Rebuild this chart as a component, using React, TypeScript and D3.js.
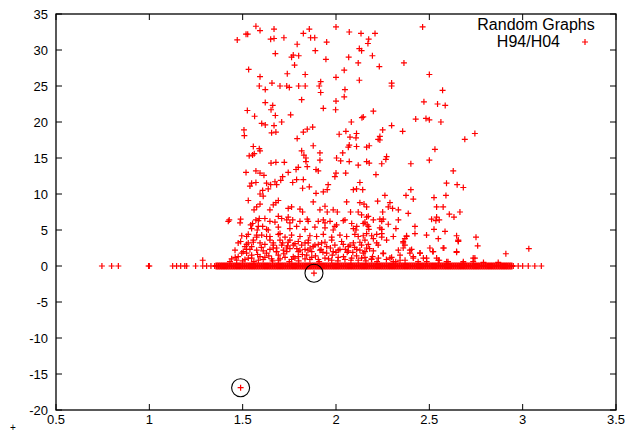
import React from "react";
import * as d3 from "d3";

// scattered points above the baseline [x, y]
const upperPoints: [number, number][] = [
  [1.571, 33.3], [1.593, 32.7], [1.518, 32.2], [1.527, 32.2], [1.668, 32.9], [1.471, 31.4], [1.65, 31.5], [1.668, 31.6],
  [1.721, 31.7], [1.825, 32.3], [1.857, 32.9], [1.864, 31.7], [1.886, 31.7], [1.792, 30.8], [1.95, 31.1], [2.0, 33.2],
  [2.071, 32.5], [2.134, 32.3], [2.175, 31.5], [2.171, 30.9], [1.675, 29.5], [1.889, 29.9], [2.125, 30.2], [2.137, 29.9],
  [1.771, 29.3], [1.762, 29.0], [1.8, 29.2], [1.946, 28.7], [2.068, 29.0], [2.119, 28.2], [1.778, 27.9], [1.532, 27.3],
  [2.044, 27.2], [1.739, 26.7], [1.835, 26.6], [1.593, 26.3], [2.0, 26.2], [2.125, 25.8], [1.657, 25.4], [1.918, 25.6],
  [1.91, 25.0], [1.918, 24.1], [1.589, 25.0], [1.621, 24.5], [1.7, 25.0], [1.736, 25.0], [1.75, 24.8], [1.8, 25.0],
  [1.835, 25.0], [2.048, 24.5], [2.044, 23.5], [1.816, 23.1], [2.0, 22.9], [1.621, 22.7], [1.661, 22.3], [1.652, 21.7],
  [1.932, 21.9], [1.998, 21.7], [1.525, 21.6], [1.564, 20.8], [1.675, 20.9], [1.757, 21.0], [2.146, 20.7], [2.139, 20.6],
  [1.602, 19.8], [1.621, 19.6], [1.668, 19.5], [1.709, 20.0], [1.507, 18.9], [1.509, 18.1], [1.875, 19.3], [1.846, 19.0],
  [1.825, 18.6], [1.655, 18.5], [1.678, 18.6], [2.082, 20.0], [2.053, 18.7], [2.017, 18.3], [2.11, 18.4], [2.075, 17.9],
  [2.107, 17.8], [1.792, 17.7],
  [2.464, 33.2], [2.209, 32.3], [2.195, 29.2], [2.232, 27.7], [2.364, 28.2], [2.5, 26.6], [2.298, 25.4], [2.298, 25.0],
  [2.571, 24.4], [2.471, 22.8], [2.544, 22.5], [2.585, 22.3], [2.2, 21.5], [2.427, 20.4], [2.482, 20.5], [2.5, 20.3],
  [2.562, 20.0], [2.298, 19.5], [2.25, 18.9], [2.235, 18.0], [2.226, 17.6], [2.357, 18.7], [2.744, 18.4], [2.69, 17.6],
  [1.557, 16.6], [1.593, 16.0], [1.589, 16.3], [1.878, 16.7], [1.816, 16.0], [1.828, 15.4], [1.839, 15.0], [1.914, 15.7],
  [1.914, 14.7], [2.071, 16.8], [2.066, 16.5], [2.11, 16.6], [2.164, 16.5], [2.036, 15.7], [1.535, 15.3], [1.553, 15.4],
  [1.562, 15.6], [1.652, 14.3], [1.678, 14.4], [1.723, 14.4], [1.786, 13.4], [1.798, 13.7], [1.839, 14.5], [1.846, 13.8],
  [1.893, 13.4], [1.905, 13.2], [2.003, 15.0], [2.025, 14.6], [2.071, 14.5], [2.119, 14.0], [2.164, 14.5], [1.518, 13.0],
  [1.571, 13.2], [1.593, 12.9], [1.614, 12.6], [1.714, 12.4], [1.704, 11.9], [1.673, 11.7], [1.682, 11.3], [1.744, 13.0],
  [1.768, 11.6], [1.821, 10.8], [1.857, 11.0], [2.0, 12.9], [1.994, 12.4], [2.052, 12.9], [1.893, 10.1], [1.932, 10.3],
  [1.953, 10.6], [1.958, 11.3], [2.128, 11.6], [2.143, 10.6], [2.093, 10.6], [2.11, 10.7], [1.548, 11.5], [1.571, 11.6],
  [1.539, 11.1], [1.628, 11.5], [1.65, 11.3], [1.607, 10.5], [1.637, 10.7], [1.825, 12.0], [1.789, 12.0], [1.593, 10.0],
  [1.61, 9.7], [1.53, 9.1], [1.575, 8.2], [1.593, 8.6], [1.561, 7.8], [1.646, 7.8], [1.664, 8.5], [1.678, 8.8],
  [1.691, 9.1], [1.744, 8.0], [1.762, 8.2], [1.807, 7.9], [1.821, 7.5], [1.878, 8.9], [1.941, 8.3], [1.914, 7.8],
  [1.953, 7.5], [1.985, 7.8], [2.007, 7.5], [2.057, 8.9], [2.078, 7.5], [2.128, 8.8], [2.15, 8.6], [2.119, 7.5],
  [2.137, 7.1], [2.164, 6.8], [1.428, 6.4], [1.489, 6.5], [1.543, 5.7], [1.553, 5.9], [1.571, 6.4], [1.589, 6.6],
  [1.619, 6.6], [1.646, 6.2], [1.607, 5.5], [1.578, 5.0], [1.691, 6.9], [1.709, 6.6], [1.744, 6.8], [1.768, 6.4],
  [1.807, 6.2], [1.846, 6.5], [1.887, 5.4], [1.905, 6.2], [1.932, 6.4], [1.968, 6.2], [2.003, 5.7], [1.985, 5.0],
  [2.048, 6.4], [2.084, 5.9], [2.107, 5.0], [2.146, 5.9], [2.173, 5.5], [2.164, 4.5],
  [2.235, 17.5], [2.178, 16.7], [2.53, 16.2], [2.271, 15.2], [2.267, 14.8], [2.178, 14.3], [2.245, 14.2], [2.401, 14.2],
  [2.5, 14.7], [2.214, 12.7], [2.628, 13.2], [2.592, 11.5], [2.649, 11.3], [2.682, 10.9], [2.401, 10.6], [2.262, 9.8],
  [2.375, 9.8], [2.414, 9.3], [2.525, 9.5], [2.589, 9.8], [2.164, 8.2], [2.223, 9.0], [2.289, 8.8], [2.28, 8.2],
  [2.303, 8.0], [2.334, 7.8], [2.387, 7.3], [2.539, 8.2], [2.574, 8.2], [2.664, 7.5], [2.607, 7.2], [2.632, 6.8],
  [2.25, 7.5], [2.173, 6.9], [2.2, 6.4], [2.235, 6.5], [2.253, 6.5], [2.334, 6.4], [2.512, 6.5], [2.539, 6.8],
  [2.553, 6.4], [2.535, 6.3], [2.167, 5.7], [2.176, 5.1], [2.28, 5.8], [2.321, 5.2], [2.307, 4.1], [2.245, 5.1],
  [2.218, 4.4], [2.423, 5.5], [2.423, 4.5], [2.485, 4.3], [2.525, 5.1], [2.584, 4.8], [2.548, 3.8], [2.646, 4.2],
  [2.655, 3.5], [2.75, 4.0], [2.759, 2.8], [2.146, 4.2], [2.2, 3.8], [2.245, 4.0], [2.271, 3.6], [2.369, 3.8],
  [2.378, 4.2], [2.226, 2.9], [2.36, 3.2], [2.405, 2.3], [2.36, 2.5], [2.334, 2.2], [2.45, 1.8], [2.503, 2.5],
  [2.518, 2.0], [2.578, 2.5], [2.646, 2.0], [2.744, 1.1], [2.91, 1.7], [3.033, 2.4], [2.146, 1.8], [2.128, 2.2],
  [2.137, 1.1], [2.196, 1.3], [2.253, 1.7], [2.298, 1.2], [2.343, 1.5], [2.396, 1.8], [2.414, 1.3], [2.485, 1.1],
  [2.539, 1.1], [2.553, 0.8], [2.682, 0.6], [2.735, 0.6], [2.869, 0.5],
];

// points a little above zero
const lowPoints: [number, number][] = [
  [1.476, 3.2], [1.489, 3.4], [1.521, 4.1], [1.53, 3.2], [1.557, 3.6], [1.548, 2.7], [1.575, 4.3], [1.593, 3.2],
  [1.628, 4.1], [1.637, 5.0], [1.646, 3.6], [1.664, 2.9], [1.682, 2.5], [1.7, 4.5], [1.7, 3.6], [1.714, 3.2],
  [1.736, 2.5], [1.753, 3.6], [1.771, 2.9], [1.798, 3.4], [1.807, 4.1], [1.834, 3.2], [1.852, 3.6], [1.861, 2.5],
  [1.887, 2.9], [1.896, 4.1], [1.923, 3.2], [1.95, 2.7], [1.977, 3.6], [1.994, 2.9], [2.012, 2.2], [2.03, 3.4],
  [2.066, 2.7], [2.093, 3.2], [2.119, 4.1], [2.137, 2.9], [2.164, 2.5], [2.155, 3.6],
  [1.512, 2.7], [1.521, 1.8], [1.495, 1.8], [1.548, 1.5], [1.575, 2.2], [1.593, 1.3], [1.628, 1.8], [1.664, 2.5],
  [1.691, 1.5], [1.736, 2.0], [1.771, 1.3], [1.807, 2.2], [1.843, 1.5], [1.878, 2.7], [1.468, 0.8], [1.432, 0.6],
  [1.286, 0.8], [1.46, 1.2], [1.5, 0.7], [1.53, 1.1], [1.56, 0.6], [1.58, 1.6], [1.61, 0.9], [1.64, 1.4],
  [1.66, 0.7], [1.7, 1.0], [1.72, 1.7], [1.75, 0.6], [1.78, 1.1], [1.8, 0.7], [1.82, 1.6], [1.86, 0.9],
  [1.89, 1.4], [1.91, 0.6], [1.93, 1.9], [1.96, 1.0], [1.98, 1.5], [2.01, 0.7], [2.04, 1.3], [2.06, 1.9],
  [2.08, 0.8], [2.11, 1.4], [2.16, 0.7], [2.19, 1.0], [2.22, 0.6], [2.27, 0.9], [2.32, 0.6], [2.37, 0.8],
  [2.44, 0.6], [2.6, 0.6], [2.79, 0.5], [1.92, 2.3], [1.95, 1.8], [2.0, 1.9], [2.05, 2.3], [2.09, 1.9],
  [1.85, 2.2], [1.68, 2.0], [1.6, 2.6], [1.52, 2.3], [1.74, 2.8], [1.79, 2.4], [1.97, 2.5], [2.1, 2.6],
  [2.18, 2.4], [2.655, 3.4],
];

// the packed cluster between 0 and 6, read row by row
const clusterPoints: [number, number][] = [
  [1.423, 6.2], [1.486, 6.0], [1.584, 6.3], [1.673, 6.1], [1.736, 6.4], [1.753, 6.0], [1.851, 6.2], [1.941, 6.0],
  [2.039, 6.3], [2.155, 6.1], [2.245, 6.2],
  [1.548, 5.2], [1.584, 5.5], [1.628, 5.1], [1.691, 5.4], [1.753, 5.2], [1.789, 5.5], [1.834, 5.1], [1.941, 5.3],
  [1.994, 5.5], [2.093, 5.2], [2.111, 5.5], [2.235, 5.3],
  [1.495, 4.2], [1.53, 4.4], [1.575, 4.0], [1.602, 4.3], [1.646, 4.1], [1.691, 4.4], [1.727, 4.0], [1.762, 4.3],
  [1.86, 4.2], [1.932, 4.4], [1.977, 4.0], [2.021, 4.3], [2.057, 4.1], [2.101, 4.4], [2.191, 4.2], [2.245, 4.5],
  [1.521, 3.0], [1.557, 3.3], [1.619, 3.0], [1.664, 3.2], [1.709, 2.9], [1.744, 3.3], [1.78, 3.1], [1.816, 2.9],
  [1.851, 3.2], [1.905, 3.0], [1.941, 3.3], [2.039, 3.0], [2.075, 2.9], [2.128, 3.3], [2.173, 3.0], [2.218, 3.2],
  [1.459, 2.2], [1.503, 2.0], [1.539, 2.3], [1.61, 2.1], [1.646, 2.3], [1.682, 2.0], [1.718, 2.2], [1.753, 2.4],
  [1.798, 2.0], [1.834, 2.3], [1.87, 2.0], [1.914, 2.2], [1.985, 2.0], [2.021, 2.3], [2.066, 2.1], [2.111, 2.3],
  [2.155, 2.0], [2.2, 2.1],
  [1.441, 1.0], [1.476, 1.3], [1.512, 0.9], [1.548, 1.1], [1.584, 0.8], [1.619, 1.2], [1.655, 1.0], [1.691, 0.8],
  [1.727, 1.2], [1.762, 0.9], [1.798, 1.3], [1.834, 1.0], [1.87, 1.2], [1.905, 0.9], [1.941, 1.1], [1.977, 0.8],
  [2.012, 1.2], [2.048, 0.9], [2.084, 1.1], [2.119, 0.8], [2.155, 1.2], [2.191, 0.9], [2.227, 1.1],
  [2.36, 3.4], [2.369, 2.9], [2.378, 4.1], [2.396, 2.2], [2.414, 1.1], [2.45, 1.8], [2.521, 2.0], [2.574, 2.5],
  [2.646, 1.9], [2.655, 3.6], [2.253, 1.8], [2.289, 1.1], [2.307, 0.6], [2.343, 0.8], [2.468, 1.1], [2.486, 0.6],
  [2.548, 0.8], [2.593, 0.6], [2.735, 1.1], [2.682, 0.4],
];

// isolated points lying on y = 0
const baselineSparseX = [
  0.746, 0.798, 0.834, 0.996, 1.0, 1.125, 1.146, 1.168, 1.19, 1.2, 1.248, 1.286, 1.307, 1.33, 1.35,
  2.95, 2.976, 3.0, 3.03, 3.065, 3.1,
];

// the solid run of points on y = 0
const baselineDenseX = [
  1.36, 1.37, 1.38, 1.39, 1.4, 1.41, 1.42, 1.43, 1.44, 1.45, 1.46, 1.47, 1.48, 1.49, 1.5,
  1.51, 1.52, 1.53, 1.54, 1.55, 1.56, 1.57, 1.58, 1.59, 1.6, 1.61, 1.62, 1.63, 1.64, 1.65,
  1.66, 1.67, 1.68, 1.69, 1.7, 1.71, 1.72, 1.73, 1.74, 1.75, 1.76, 1.77, 1.78, 1.79, 1.8,
  1.81, 1.82, 1.83, 1.84, 1.85, 1.86, 1.87, 1.88, 1.89, 1.9, 1.91, 1.92, 1.93, 1.94, 1.95,
  1.96, 1.97, 1.98, 1.99, 2.0, 2.01, 2.02, 2.03, 2.04, 2.05, 2.06, 2.07, 2.08, 2.09, 2.1,
  2.11, 2.12, 2.13, 2.14, 2.15, 2.16, 2.17, 2.18, 2.19, 2.2, 2.21, 2.22, 2.23, 2.24, 2.25,
  2.26, 2.27, 2.28, 2.29, 2.3, 2.31, 2.32, 2.33, 2.34, 2.35, 2.36, 2.37, 2.38, 2.39, 2.4,
  2.41, 2.42, 2.43, 2.44, 2.45, 2.46, 2.47, 2.48, 2.49, 2.5, 2.51, 2.52, 2.53, 2.54, 2.55,
  2.56, 2.57, 2.58, 2.59, 2.6, 2.61, 2.62, 2.63, 2.64, 2.65, 2.66, 2.67, 2.68, 2.69, 2.7,
  2.71, 2.72, 2.73, 2.74, 2.75, 2.76, 2.77, 2.78, 2.79, 2.8, 2.81, 2.82, 2.83, 2.84, 2.85,
  2.86, 2.87, 2.88, 2.89, 2.9, 2.91, 2.92, 2.93, 2.94,
];

// the two points marked with a circle
const circledPoints: [number, number][] = [
  [1.882, -1.0],
  [1.489, -16.9],
];

const xTicks = [0.5, 1, 1.5, 2, 2.5, 3, 3.5];
const yTicks = [-20, -15, -10, -5, 0, 5, 10, 15, 20, 25, 30, 35];
const keyTitle = "Random Graphs";
const seriesName = "H94/H04";

const W = 626;
const H = 443;
const margin = { top: 14, right: 10, bottom: 33, left: 56 };

const Plus = ({ cx, cy, s = 3, w = 1.2, color = "#ff0000" }) => (
  <path
    d={`M${cx - s},${cy}H${cx + s}M${cx},${cy - s}V${cy + s}`}
    stroke={color}
    strokeWidth={w}
    fill="none"
  />
);

export default function App() {
  const x = d3.scaleLinear().domain([0.5, 3.5]).range([margin.left, W - margin.right]);
  const y = d3.scaleLinear().domain([-20, 35]).range([H - margin.bottom, margin.top]);
  const [x0, x1] = x.range();
  const [y0, y1] = y.range();
  const font = "'Liberation Sans', Arial, Helvetica, sans-serif";
  const tick = 6;

  const scatter: [number, number][] = [
    ...baselineSparseX.map((v) => [v, 0] as [number, number]),
    ...clusterPoints,
    ...lowPoints,
    ...upperPoints,
    ...circledPoints,
  ];

  return (
    <svg
      width={W}
      height={H}
      style={{ position: "absolute", left: 0, top: 0, background: "#fff" }}
      fontFamily={font}
    >
      <rect width={W} height={H} fill="#fff" />

      {/* ticks, mirrored on all four sides */}
      {yTicks.map((t) => (
        <g key={"y" + t}>
          <line x1={x0} x2={x0 + tick} y1={y(t)} y2={y(t)} stroke="#000" />
          <line x1={x1} x2={x1 - tick} y1={y(t)} y2={y(t)} stroke="#000" />
          <text x={48} y={y(t)} dy="0.36em" textAnchor="end" fontSize={13} fill="#000">
            {t}
          </text>
        </g>
      ))}
      {xTicks.map((t) => (
        <g key={"x" + t}>
          <line x1={x(t)} x2={x(t)} y1={y0} y2={y0 - tick} stroke="#000" />
          <line x1={x(t)} x2={x(t)} y1={y1} y2={y1 + tick} stroke="#000" />
          <text x={x(t)} y={y0 + 14} textAnchor="middle" fontSize={13} fill="#000">
            {t}
          </text>
        </g>
      ))}

      {baselineDenseX.map((v, i) => (
        <Plus key={"b" + i} cx={x(v)} cy={y(0)} s={3.5} w={2.2} />
      ))}
      {scatter.map(([a, b], i) => (
        <Plus key={i} cx={x(a)} cy={y(b)} />
      ))}

      {circledPoints.map(([a, b], i) => (
        <circle key={"c" + i} cx={x(a)} cy={y(b)} r={9} fill="none" stroke="#000" strokeWidth={1.1} />
      ))}

      <rect x={x0} y={y1} width={x1 - x0} height={y0 - y1} fill="none" stroke="#000" strokeWidth={1.3} />

      {/* key */}
      <text x={536} y={29.5} textAnchor="middle" fontSize={16} fill="#000">
        {keyTitle}
      </text>
      <text x={560} y={47} textAnchor="end" fontSize={16} fill="#000">
        {seriesName}
      </text>
      <Plus cx={585} cy={42} />

      <text x={13} y={431} textAnchor="middle" fontSize={10} fill="#000">
        +
      </text>
    </svg>
  );
}
